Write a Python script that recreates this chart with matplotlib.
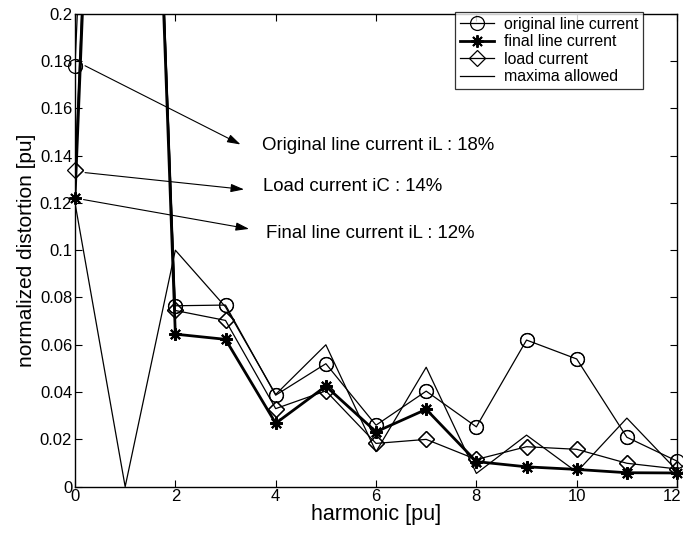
import numpy as np
import matplotlib
matplotlib.use('Agg')
import matplotlib.pyplot as plt
from matplotlib.transforms import ScaledTranslation

plt.rcParams['font.family'] = ['Liberation Sans', 'DejaVu Sans']

# harmonic order
harmonic = [0, 1, 2, 3, 4, 5, 6, 7, 8, 9, 10, 11, 12]

# normalized distortion per harmonic (value at 1 is off the chart)
original = [0.178, 0.65, 0.0765, 0.0768, 0.0387, 0.052, 0.026, 0.0404, 0.0253, 0.062, 0.054, 0.0209, 0.0108]
final = [0.122, 0.65, 0.0645, 0.0623, 0.0268, 0.0425, 0.0232, 0.0327, 0.0106, 0.0084, 0.0073, 0.0059, 0.0058]
load = [0.134, 0.65, 0.0745, 0.0703, 0.033, 0.0405, 0.0183, 0.0200, 0.0115, 0.0169, 0.0158, 0.0099, 0.0075]
maxima = [0.12, 0.0, 0.100, 0.076, 0.039, 0.060, 0.0148, 0.0505, 0.0056, 0.0218, 0.0062, 0.0290, 0.0068]

yticks = [0, 0.02, 0.04, 0.06, 0.08, 0.1, 0.12, 0.14, 0.16, 0.18, 0.2]
ytick_labels = ['0', '0.02', '0.04', '0.06', '0.08', '0.1', '0.12', '0.14', '0.16', '0.18', '0.2']
xticks = [0, 2, 4, 6, 8, 10, 12]

# annotation texts, arrow start/end and text anchor (data units)
notes = ['Original line current iL : 18%', 'Load current iC : 14%', 'Final line current iL : 12%']
arrow_from = [(0.2, 0.178), (0.2, 0.1328), (0.17, 0.1214)]
arrow_to = [(3.3, 0.1447), (3.37, 0.1257), (3.47, 0.109)]
note_pos = [(3.73, 0.1444), (3.75, 0.1268), (3.80, 0.1072)]

fig = plt.figure(figsize=(6.83, 5.33), dpi=100)
ax = fig.add_axes([0.1098, 0.0869, 0.8815, 0.8874])

x = np.array(harmonic)
ymax = 0.2


def draw(y, marker, lw, ms, mew, label):
    y = np.array(y)
    line, = ax.plot(x, y, color='black', lw=lw, marker=marker, ms=ms, mew=mew,
                    mfc='none', mec='black', label=label)
    # markers at the axes edge are drawn whole, like the original
    keep = y <= ymax
    ax.plot(x[keep], y[keep], ls='none', marker=marker, ms=ms, mew=mew,
            mfc='none', mec='black', clip_on=False)
    return line


draw(original, 'o', 0.9, 10, 0.9, 'original line current')
draw(final, (8, 2, 0), 2.0, 9, 1.4, 'final line current')
draw(load, 'D', 0.9, 8.5, 0.9, 'load current')
ax.plot(x, maxima, color='black', lw=0.9, label='maxima allowed')

for txt, a0, a1, p in zip(notes, arrow_from, arrow_to, note_pos):
    ax.annotate('', xy=a1, xytext=a0,
                arrowprops=dict(arrowstyle='-|>,head_length=0.8,head_width=0.25',
                                color='black', lw=0.8, shrinkA=0, shrinkB=0))
    ax.text(p[0], p[1], txt, fontsize=13.4, ha='left', va='center')

ax.set_xlim(0, 12)
ax.set_ylim(0, ymax)
ax.set_xticks(xticks)
ax.set_yticks(yticks)
ax.set_yticklabels(ytick_labels)
ax.tick_params(direction='in', top=True, right=True, length=5, width=0.8,
               labelsize=12, pad=2)
for s in ax.spines.values():
    s.set_linewidth(1.0)

# nudge the last x label in so it stays inside the figure
last = ax.get_xticklabels()[-1]
last.set_transform(last.get_transform() + ScaledTranslation(-0.05, 0, fig.dpi_scale_trans))

ax.set_xlabel('harmonic [pu]', fontsize=15.5, labelpad=0)
ax.set_ylabel('normalized distortion [pu]', fontsize=15, labelpad=3)

leg = ax.legend(loc='upper right', bbox_to_anchor=(0.9435, 1.003), borderaxespad=0,
                fontsize=11.4, frameon=True, fancybox=False, handlelength=2.2,
                borderpad=0.3, labelspacing=0.15, handletextpad=0.6)
leg.get_frame().set_edgecolor('black')
leg.get_frame().set_linewidth(0.9)

fig.savefig('out.png', dpi=100)
